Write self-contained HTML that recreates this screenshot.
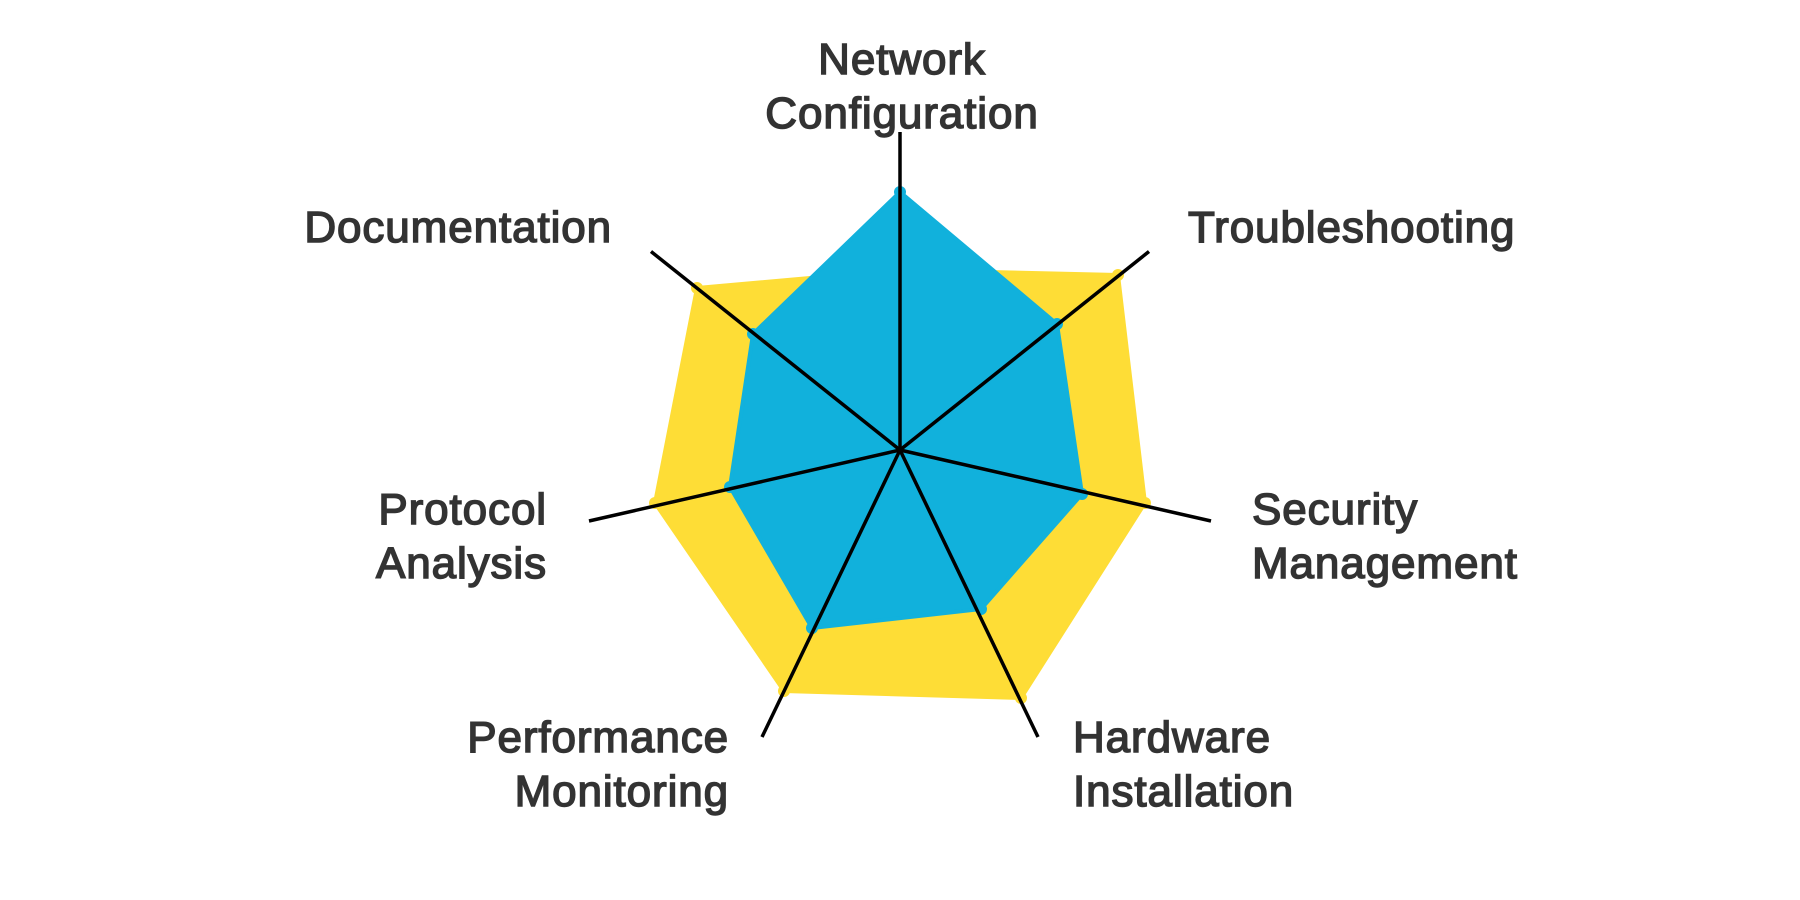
<!DOCTYPE html>
<html>
<head>
<meta charset="utf-8">
<style>
  html,body{margin:0;padding:0;background:#fff;}
  svg{display:block;}
  text{font-family:"Liberation Sans",Arial,sans-serif;font-size:44px;fill:#333333;stroke:#333333;stroke-width:1.5px;letter-spacing:0.9px;}
</style>
</head>
<body>
<svg width="1800" height="900" viewBox="0 0 1800 900" xmlns="http://www.w3.org/2000/svg">
  <rect width="1800" height="900" fill="#ffffff"/>
  <!-- yellow polygon -->
  <polygon points="900,270 1118,275 1145,503 1021,698 784,691 655,503 697,288" fill="#FEDD36" stroke="#FEDD36" stroke-width="4" stroke-linejoin="round"/>
  <g fill="#FEDD36">
    <circle cx="1118" cy="275" r="6"/><circle cx="1145" cy="503" r="6"/><circle cx="1021" cy="698" r="6"/>
    <circle cx="784" cy="691" r="6"/><circle cx="655" cy="503" r="6"/><circle cx="697" cy="288" r="6"/>
  </g>
  <!-- blue polygon -->
  <polygon points="900,192 1057,324 1082,494 981,609 812,628 730,487 753,334" fill="#11B1DC" stroke="#11B1DC" stroke-width="4" stroke-linejoin="round"/>
  <g fill="#11B1DC">
    <circle cx="900" cy="192" r="6"/><circle cx="1057" cy="324" r="6"/><circle cx="1082" cy="494" r="6"/>
    <circle cx="981" cy="609" r="6"/><circle cx="812" cy="628" r="6"/><circle cx="730" cy="487" r="6"/>
    <circle cx="753" cy="334" r="6"/>
  </g>
  <!-- axes -->
  <g stroke="#000" stroke-width="3.5" stroke-linecap="butt">
    <line x1="900" y1="450" x2="900" y2="132"/>
    <line x1="900" y1="450" x2="1149" y2="251.5"/>
    <line x1="900" y1="450" x2="1211" y2="521"/>
    <line x1="900" y1="450" x2="1038" y2="737"/>
    <line x1="900" y1="450" x2="762" y2="737"/>
    <line x1="900" y1="450" x2="589" y2="521"/>
    <line x1="900" y1="450" x2="651" y2="251.5"/>
  </g>
  <!-- labels -->
  <text x="902" y="74" text-anchor="middle">Network</text>
  <text x="902" y="128" text-anchor="middle">Configuration</text>
  <text x="612" y="242" text-anchor="end">Documentation</text>
  <text x="1188" y="242">Troubleshooting</text>
  <text x="1252" y="524">Security</text>
  <text x="1252" y="578">Management</text>
  <text x="547" y="524" text-anchor="end">Protocol</text>
  <text x="547" y="578" text-anchor="end">Analysis</text>
  <text x="729" y="752" text-anchor="end">Performance</text>
  <text x="729" y="806" text-anchor="end">Monitoring</text>
  <text x="1073" y="752">Hardware</text>
  <text x="1073" y="806">Installation</text>
</svg>
</body>
</html>
